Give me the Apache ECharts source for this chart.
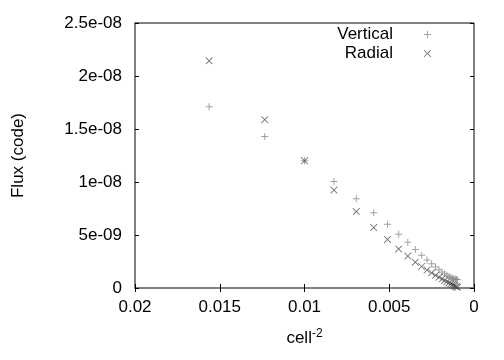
<!DOCTYPE html>
<html>
<head>
<meta charset="utf-8">
<script src="https://cdn.jsdelivr.net/npm/echarts@6/dist/echarts.min.js"></script>
<style>
  html, body { margin: 0; padding: 0; background: #fff; }
  #chart { width: 504px; height: 360px; }
</style>
</head>
<body>
<div id="chart"></div>
<script>
// cell^-2 for each run
var cellInv2 = [0.015625, 0.012346, 0.01, 0.008264, 0.006944, 0.005917, 0.005102, 0.004444,
                0.003906, 0.00346, 0.003086, 0.00277, 0.0025, 0.002268, 0.002066, 0.00189,
                0.001736, 0.0016, 0.001479, 0.001372, 0.001276, 0.001189, 0.001111, 0.00104, 0.000977];
var fluxVertical = [1.71e-8, 1.43e-8, 1.20e-8, 1.005e-8, 0.843e-8, 0.711e-8, 0.602e-8, 0.508e-8,
                    0.432e-8, 0.364e-8, 0.310e-8, 0.265e-8, 0.228e-8, 0.197e-8, 0.172e-8, 0.151e-8,
                    0.134e-8, 0.120e-8, 0.109e-8, 0.100e-8, 0.093e-8, 0.088e-8, 0.084e-8, 0.081e-8, 0.079e-8];
var fluxRadial = [2.143e-8, 1.588e-8, 1.20e-8, 0.924e-8, 0.721e-8, 0.570e-8, 0.458e-8, 0.369e-8,
                  0.301e-8, 0.244e-8, 0.203e-8, 0.170e-8, 0.143e-8, 0.120e-8, 0.101e-8, 0.085e-8,
                  0.071e-8, 0.059e-8, 0.048e-8, 0.039e-8, 0.031e-8, 0.024e-8, 0.017e-8, 0.011e-8, 0.006e-8];
var xTickLabels = ['0', '0.005', '0.01', '0.015', '0.02'];
var yTickLabels = ['0', '5e-09', '1e-08', '1.5e-08', '2e-08', '2.5e-08'];

var FONT = 'Liberation Sans';
var plusPath = 'path://M3,0H4V3H7V4H4V7H3V4H0V3H3Z';
var crossPath = 'path://M0,0L0.6,0L3.5,2.9L6.4,0L7,0L7,0.6L4.1,3.5L7,6.4L7,7L6.4,7L3.5,4.1L0.6,7L0,7L0,6.4L2.9,3.5L0,0.6Z';

function pairs(xs, ys) {
    var out = [];
    for (var i = 0; i < xs.length; i++) out.push([xs[i], ys[i]]);
    return out;
}

var chart = echarts.init(document.getElementById('chart'));
var legendText = { fontFamily: FONT, fontSize: 17, color: '#000', padding: [0, 26, 0, 0] };
var option = {
    animation: false,
    grid: { left: 135, right: 30, top: 23, bottom: 72, show: true, borderColor: '#000', borderWidth: 1 },
    legend: [
        { data: [{ name: 'Vertical', icon: plusPath }], orient: 'vertical', align: 'right', right: 73, top: 26,
          padding: 0, itemWidth: 7, itemHeight: 7, textStyle: legendText },
        { data: [{ name: 'Radial', icon: crossPath }], orient: 'vertical', align: 'right', right: 73, top: 45,
          padding: 0, itemWidth: 7, itemHeight: 7, textStyle: legendText }
    ],
    xAxis: [
        {
            type: 'value', min: 0, max: 0.02, interval: 0.005, inverse: true,
            name: 'cell{sup|-2}', nameLocation: 'middle', nameGap: 40,
            nameTextStyle: { fontFamily: FONT, fontSize: 17, color: '#000',
                rich: { sup: { fontFamily: FONT, fontSize: 12, color: '#000', padding: [0, 0, 9, 0] } } },
            axisLine: { show: true, onZero: false, lineStyle: { color: '#808080', width: 2 } },
            axisTick: { show: true, inside: true, length: 4, lineStyle: { color: '#000' } },
            axisLabel: { fontFamily: FONT, fontSize: 17, color: '#000', margin: 11,
                formatter: function (v) { return xTickLabels[Math.round(v / 0.005)]; } },
            splitLine: { show: false }
        },
        {
            type: 'value', min: 0, max: 0.02, interval: 0.005, inverse: true, position: 'top',
            axisLine: { show: false },
            axisTick: { show: true, inside: true, length: 4, lineStyle: { color: '#000' } },
            axisLabel: { show: false }, splitLine: { show: false }
        }
    ],
    yAxis: [
        {
            type: 'value', min: 0, max: 2.5e-8, interval: 5e-9,
            name: 'Flux (code)', nameLocation: 'middle', nameGap: 108, nameRotate: 90,
            nameTextStyle: { fontFamily: FONT, fontSize: 17, color: '#000' },
            axisLine: { show: true, onZero: false, lineStyle: { color: '#808080', width: 2 } },
            axisTick: { show: true, inside: true, length: 4, lineStyle: { color: '#000' } },
            axisLabel: { fontFamily: FONT, fontSize: 17, color: '#000', margin: 13,
                formatter: function (v) { return yTickLabels[Math.round(v / 5e-9)]; } },
            splitLine: { show: false }
        },
        {
            type: 'value', min: 0, max: 2.5e-8, interval: 5e-9, position: 'right',
            axisLine: { show: false },
            axisTick: { show: true, inside: true, length: 4, lineStyle: { color: '#000' } },
            axisLabel: { show: false }, splitLine: { show: false }
        }
    ],
    series: [
        {
            name: 'Vertical', type: 'scatter', symbol: plusPath, symbolSize: 7,
            itemStyle: { color: '#8a8a8a' },
            data: pairs(cellInv2, fluxVertical)
        },
        {
            name: 'Radial', type: 'scatter', symbol: crossPath, symbolSize: 7,
            itemStyle: { color: '#4a4a4a' },
            data: pairs(cellInv2, fluxRadial)
        }
    ]
};
chart.setOption(option);
</script>
</body>
</html>
